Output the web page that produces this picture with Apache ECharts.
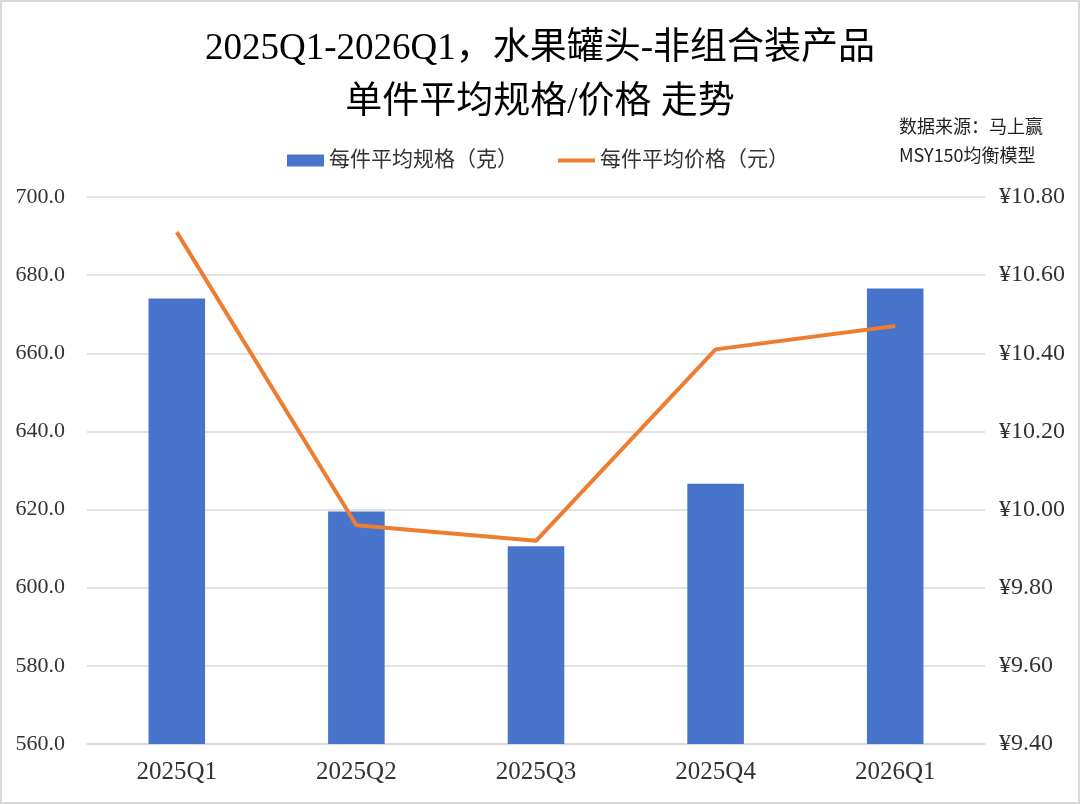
<!DOCTYPE html>
<html>
<head>
<meta charset="utf-8">
<script src="https://cdn.jsdelivr.net/npm/echarts@6/dist/echarts.min.js"></script>
<style>
  html, body { margin: 0; padding: 0; background: #fff; }
  #chart { width: 1080px; height: 804px; box-sizing: border-box; border: 2px solid #d9d9d9; }
</style>
</head>
<body>
<div id="chart"></div>
<script>
const categories = ['2025Q1', '2025Q2', '2025Q3', '2025Q4', '2026Q1'];
const avgSpec = [674.0, 619.5, 610.6, 626.6, 676.6];
const avgPrice = [10.71, 9.96, 9.92, 10.41, 10.47];

const serif = '"Liberation Serif", "Noto Sans CJK SC", serif';
const cjk = '"Liberation Serif", "Noto Sans CJK SC", sans-serif';

const chart = echarts.init(document.getElementById('chart'));
chart.setOption({
  animation: false,
  title: [
    {
      text: '2025Q1-2026Q1，水果罐头-非组合装产品',
      left: 'center', top: 24,
      textStyle: { fontFamily: cjk, fontSize: 37, fontWeight: 'normal', color: '#000' }
    },
    {
      text: '单件平均规格/价格 走势',
      left: 'center', top: 78,
      textStyle: { fontFamily: cjk, fontSize: 37, fontWeight: 'normal', color: '#000' }
    },
    {
      text: '数据来源：马上赢\nMSY150均衡模型',
      right: 30, top: 105,
      textStyle: { fontFamily: '"Noto Sans CJK SC", sans-serif', fontSize: 18, fontWeight: 'normal', color: '#222', lineHeight: 29, align: 'center' }
    }
  ],
  legend: {
    top: 143, left: 280,
    itemGap: 40,
    itemWidth: 37, itemHeight: 12,
    textStyle: { fontFamily: cjk, fontSize: 21, color: '#333' },
    data: [
      { name: '每件平均规格（克）', icon: 'rect' },
      { name: '每件平均价格（元）', icon: 'path://M0,0 L36,0 L36,4 L0,4 Z', itemStyle: { color: '#ED7D31' } }
    ]
  },
  grid: { left: 85, right: 93, top: 195, bottom: 58 },
  xAxis: {
    type: 'category',
    data: categories,
    axisLine: { lineStyle: { color: '#d9d9d9', width: 1.5 } },
    axisTick: { show: false },
    axisLabel: { fontFamily: serif, fontSize: 25, color: '#333', margin: 16 }
  },
  yAxis: [
    {
      type: 'value', min: 560, max: 700, interval: 20,
      axisLine: { show: false }, axisTick: { show: false },
      splitLine: { lineStyle: { color: '#d9d9d9', width: 1.5 } },
      axisLabel: { fontFamily: serif, fontSize: 22, color: '#333', margin: 22, formatter: v => v.toFixed(1) }
    },
    {
      type: 'value', min: 9.4, max: 10.8, interval: 0.2,
      axisLine: { show: false }, axisTick: { show: false },
      splitLine: { show: false },
      axisLabel: { fontFamily: serif, fontSize: 24, color: '#333', margin: 14, formatter: v => '¥' + v.toFixed(2) }
    }
  ],
  series: [
    {
      name: '每件平均规格（克）',
      type: 'bar',
      data: avgSpec,
      barWidth: '31.5%',
      itemStyle: { color: '#4874CB' }
    },
    {
      name: '每件平均价格（元）',
      type: 'line',
      yAxisIndex: 1,
      data: avgPrice,
      symbol: 'none',
      lineStyle: { color: '#ED7D31', width: 4 },
      itemStyle: { color: '#ED7D31' }
    }
  ]
});
</script>
</body>
</html>
